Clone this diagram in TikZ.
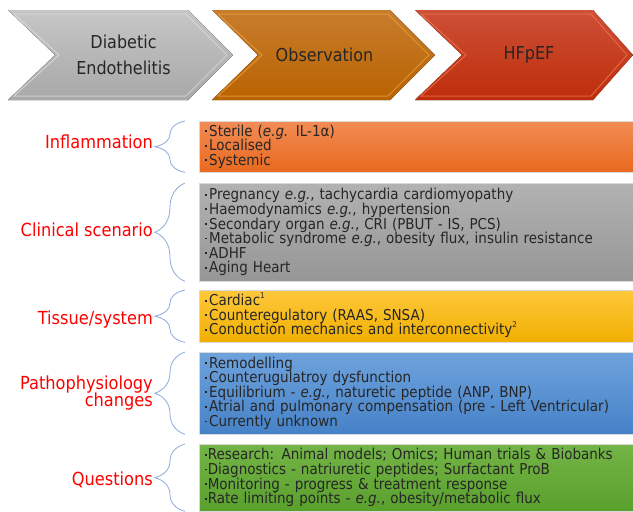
\documentclass[tikz,border=0pt]{standalone}
\usepackage{fontspec}
\setmainfont{DejaVu Sans Condensed}
\usetikzlibrary{decorations.pathreplacing,calc}
\definecolor{txt}{HTML}{262626}
\definecolor{bracecol}{HTML}{8EAADB}
\definecolor{o1}{RGB}{200,125,45}
\definecolor{o2}{RGB}{185,98,0}
\definecolor{o3}{RGB}{235,165,70}
\definecolor{r1}{RGB}{205,80,55}
\definecolor{r2}{RGB}{190,45,10}
\definecolor{r3}{RGB}{240,120,85}
\definecolor{g1}{RGB}{198,198,198}
\definecolor{g2}{RGB}{168,168,168}
\definecolor{g3}{RGB}{222,222,222}
\definecolor{ba1}{RGB}{242,140,85}
\definecolor{ba2}{RGB}{232,105,30}
\definecolor{bb1}{RGB}{178,178,178}
\definecolor{bb2}{RGB}{150,150,150}
\definecolor{bc1}{RGB}{255,200,60}
\definecolor{bc2}{RGB}{240,175,0}
\definecolor{bd1}{RGB}{110,162,220}
\definecolor{bd2}{RGB}{70,130,200}
\definecolor{be1}{RGB}{115,180,70}
\definecolor{be2}{RGB}{90,160,45}
\tikzset{
  chevtext/.style={font=\fontsize{17.8}{26}\selectfont, text=txt, align=center, inner sep=0},
  lab/.style={font=\fontsize{18}{17.5}\selectfont, text=red, inner sep=0, anchor=east, align=right},
  box/.style={anchor=north west, minimum width=434pt, text width=422pt, inner xsep=6pt, inner ysep=0pt,
     align=left, font=\fontsize{15}{14.6}\selectfont, text=txt, draw=white!85!black, line width=0.4pt},
  bracepath/.style={draw=bracecol, line width=0.8pt, decorate, decoration={brace, amplitude=30pt}},
  bevel/.style={line width=1pt, opacity=0.7},
}
\newcommand{\dotmark}{\raisebox{0.28em}{\rule{1.8pt}{1.8pt}}}
\newcommand{\bul}{\dotmark\hspace{2.2pt}}
\newcommand{\bulq}{\dotmark\hspace{0.8pt}}
\newcommand{\supr}[1]{\smash{\raisebox{0.5em}{\fontsize{8}{8}\selectfont #1}}}
\begin{document}
\begin{tikzpicture}[x=1pt,y=-1pt]
\useasboundingbox[fill=white] (0,0) rectangle (633,512);
% chevrons
\fill[top color=g1, bottom color=g2] (8,10) -- (188,10) -- (233,55) -- (188,100) -- (8,100) -- (55,55) -- cycle;
\draw[bevel, draw=g3] (14,14) -- (186,14) -- (227,55) -- (186,96) -- (14,96) -- (59,55) -- cycle;
\fill[top color=o1, bottom color=o2] (212,10) -- (390,10) -- (435,55) -- (390,100) -- (212,100) -- (258,55) -- cycle;
\draw[bevel, draw=o3] (218,14) -- (388,14) -- (429,55) -- (388,96) -- (218,96) -- (262,55) -- cycle;
\fill[top color=r1, bottom color=r2] (415,10) -- (593,10) -- (633,55) -- (593,100) -- (415,100) -- (462,55) -- cycle;
\draw[bevel, draw=r3] (421,14) -- (591,14) -- (627,55) -- (591,96) -- (421,96) -- (466,55) -- cycle;
\node[chevtext] (c1) at (123.5,55) {Diabetic\\Endothelitis};
\node[chevtext] (c2) at (324.5,55) {Observation};
\node[chevtext] (c3) at (529,55) {HFpEF};
% boxes
\node[box, minimum height=51pt, top color=ba1, bottom color=ba2] (b1) at (199,121)
 {\bul Sterile (\textit{e.g.} IL-1α)\\\bul Localised\\\bul Systemic};
\node[box, minimum height=98pt, top color=bb1, bottom color=bb2] (b2) at (199,183)
 {\bul Pregnancy \textit{e.g.}, tachycardia cardiomyopathy\\\bul Haemodynamics \textit{e.g.}, hypertension\\\bul Secondary organ \textit{e.g.}, CRI (PBUT - IS, PCS)\\\bul Metabolic syndrome \textit{e.g.}, obesity flux, insulin resistance\\\bul ADHF\\\bul Aging Heart};
\node[box, minimum height=52pt, top color=bc1, bottom color=bc2] (b3) at (199,290)
 {\bul Cardiac\supr{1}\\\bul Counteregulatory (RAAS, SNSA)\\\bul Conduction mechanics and interconnectivity\supr{2}};
\node[box, minimum height=82pt, top color=bd1, bottom color=bd2] (b4) at (199,352)
 {\bul Remodelling\\\bul Counterugulatroy dysfunction\\\bul Equilibrium - \textit{e.g.}, naturetic peptide (ANP, BNP)\\\bul Atrial and pulmonary compensation (pre - Left Ventricular)\\\bul Currently unknown};
\node[box, minimum height=67pt, top color=be1, bottom color=be2] (b5) at (199,444)
 {\bulq Research: Animal models; Omics; Human trials \& Biobanks\\\bulq Diagnostics - natriuretic peptides; Surfactant ProB\\\bulq Monitoring - progress \& treatment response\\\bulq Rate limiting points - \textit{e.g.}, obesity/metabolic flux};
% labels
\node[lab] (l1) at (153,142) {Inflammation};
\node[lab] (l2) at (153,230) {Clinical scenario};
\node[lab] (l3) at (153,320) {Tissue/system};
\node[lab] (l4) at (153,393) {Pathophysiology\\changes};
\node[lab] (l5) at (153,480) {Questions};
% braces
\foreach \b in {b1,b2,b3,b4,b5}{
  \draw[bracepath] ($(\b.south west)+(-14,0)$) -- ($(\b.north west)+(-14,0)$);
}
\end{tikzpicture}
\end{document}
